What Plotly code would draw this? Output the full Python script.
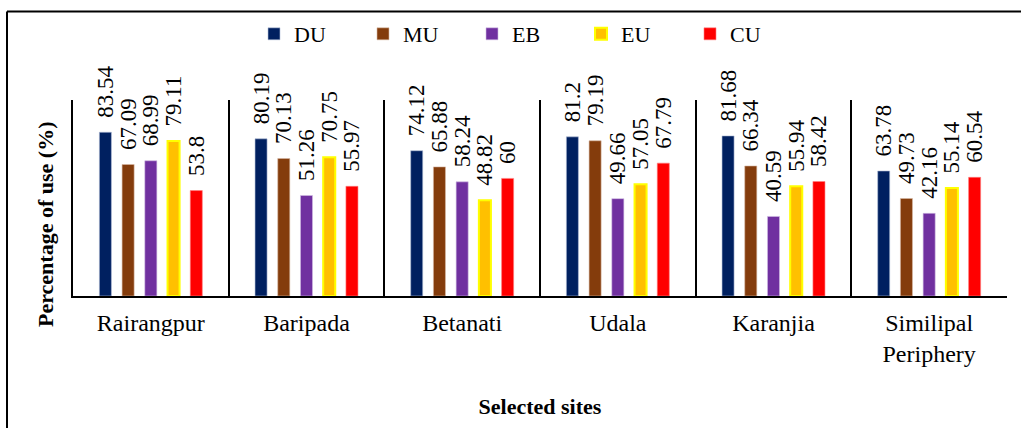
import plotly.graph_objects as go

# Sites and usage percentages per category
sites = ["Rairangpur", "Baripada", "Betanati", "Udala", "Karanjia", "Similipal<br>Periphery"]
series_names = ["DU", "MU", "EB", "EU", "CU"]
du = [83.54, 80.19, 74.12, 81.2, 81.68, 63.78]
mu = [67.09, 70.13, 65.88, 79.19, 66.34, 49.73]
eb = [68.99, 51.26, 58.24, 49.66, 40.59, 42.16]
eu = [79.11, 70.75, 48.82, 57.05, 55.94, 55.14]
cu = [53.8, 55.97, 60, 67.79, 58.42, 60.54]

fill_colors = ["#002060", "#843C0C", "#7030A0", "#FFC000", "#FF0000"]
edge_colors = ["#B4C0D8", "#D9B8A4", "#D2BEE4", "#FFFF00", "#FF8080"]
edge_widths = [0.6, 0.6, 0.6, 2, 0.6]

FONT = "Liberation Serif, Times New Roman, serif"

fig = go.Figure()
for name, vals, fc, ec, ew in zip(series_names, [du, mu, eb, eu, cu],
                                  fill_colors, edge_colors, edge_widths):
    fig.add_trace(go.Bar(
        name=name, x=sites, y=vals,
        marker=dict(color=fc, line=dict(color=ec, width=ew)),
        # non-breaking spaces keep the rotated label clear of the bar end
        texttemplate="\u00a0\u00a0%{y}", textposition="outside", textangle=-90,
        textfont=dict(family=FONT, size=23, color="black"),
        constraintext="none", cliponaxis=False,
    ))

# Plot area: x 73..1007, y 100..296
L, R, T, B = 73, 14, 100, 132
W, H = 1021, 428
pw, ph = W - L - R, H - T - B

fig.update_layout(
    width=W, height=H,
    margin=dict(l=L, r=R, t=T, b=B, autoexpand=False),
    paper_bgcolor="white", plot_bgcolor="white",
    barmode="group", bargap=0.27, bargroupgap=0.47,
    font=dict(family=FONT, size=23, color="black"),
    showlegend=True,
    legend=dict(
        orientation="h", x=(254 - L) / pw, xanchor="left",
        y=(296 - 13) / ph, yanchor="top",
        font=dict(family=FONT, size=22, color="black"),
        entrywidth=64, entrywidthmode="pixels",
        itemclick=False, bgcolor="rgba(0,0,0,0)", borderwidth=0,
    ),
    xaxis=dict(
        type="category", showline=True, linecolor="black", linewidth=1.5,
        tickson="boundaries", showgrid=True, gridcolor="black", gridwidth=1.5,
        ticks="", ticklen=0, ticklabelstandoff=4,
        tickfont=dict(family=FONT, size=24, color="black"),
        title=dict(text="<b>Selected sites</b>", standoff=33,
                   font=dict(family=FONT, size=22, color="black")),
        automargin=False,
    ),
    yaxis=dict(
        range=[0, 100], showline=True, linecolor="black", linewidth=1.5,
        showgrid=False, zeroline=False, showticklabels=False, ticks="",
        automargin=False,
    ),
    annotations=[
        # y-axis title, set a little below the plot's mid-height
        dict(text="<b>Percentage of use (%)</b>", textangle=-90,
             xref="paper", yref="paper",
             x=(45 - L) / pw, y=(296 - 225) / ph,
             xanchor="center", yanchor="middle", showarrow=False,
             font=dict(family=FONT, size=22, color="black")),
    ],
    shapes=[
        # frame drawn round the chart, open at the right and bottom edges
        dict(type="line", xref="paper", yref="paper",
             x0=(7 - L) / pw, x1=(1030 - L) / pw,
             y0=(296 - 11.5) / ph, y1=(296 - 11.5) / ph,
             line=dict(color="black", width=2)),
        dict(type="line", xref="paper", yref="paper",
             x0=(7 - L) / pw, x1=(7 - L) / pw,
             y0=(296 - 11.5) / ph, y1=(296 - 440) / ph,
             line=dict(color="black", width=2)),
    ],
)

fig.write_html("out.html")
